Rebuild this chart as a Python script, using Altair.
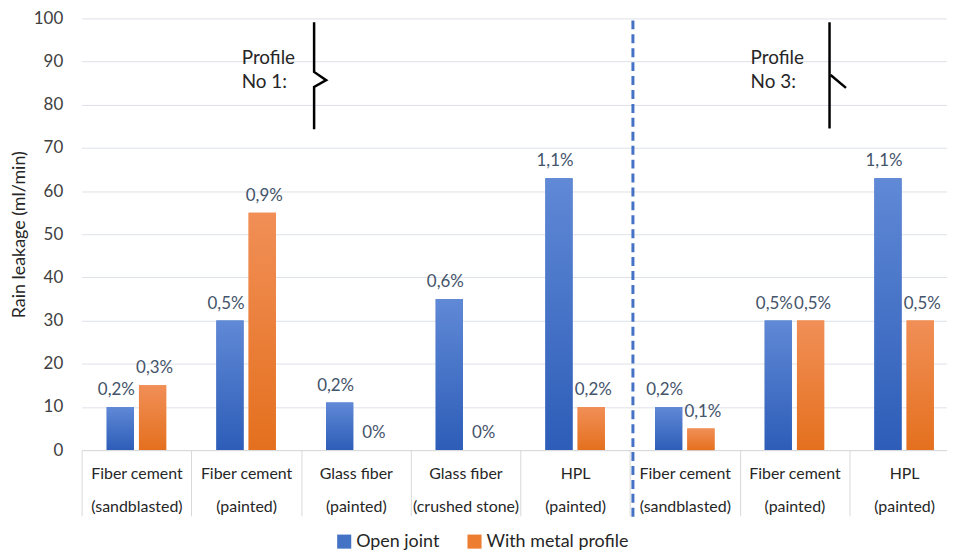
import altair as alt
import pandas as pd

# ---- data ----
categories = ["Fiber cement", "Fiber cement", "Glass fiber", "Glass fiber", "HPL",
              "Fiber cement", "Fiber cement", "HPL"]
subtitles = ["(sandblasted)", "(painted)", "(painted)", "(crushed stone)", "(painted)",
             "(sandblasted)", "(painted)", "(painted)"]
series = ["Open joint", "With metal profile"]
open_joint = [10, 30, 11, 35, 63, 10, 30, 63]
metal_profile = [15, 55, 0, 0, 10, 5, 30, 30]
open_labels = ["0,2%", "0,5%", "0,2%", "0,6%", "1,1%", "0,2%", "0,5%", "1,1%"]
metal_labels = ["0,3%", "0,9%", "0%", "0%", "0,2%", "0,1%", "0,5%", "0,5%"]
y_ticks = [0, 10, 20, 30, 40, 50, 60, 70, 80, 90, 100]

# annotations (x in category units from left edge, y in data units)
annot_text = ["Profile", "No 1:", "Profile", "No 3:"]
annot_text_x = [1.46, 1.46, 6.1, 6.1]
annot_text_y = [90.8, 85.3, 90.8, 85.3]
brace_seg = ["b1", "b1", "b1", "b1", "b1", "b3v", "b3v", "b3d", "b3d"]
brace_x = [2.12, 2.12, 2.23, 2.12, 2.12, 6.82, 6.82, 6.83, 6.97]
brace_y = [99.1, 87.6, 85.7, 84.1, 74.3, 99.1, 74.5, 86.9, 83.9]
divider_index = 5

FONT = "Lato"
X_RANGE = [0, 882]   # the category axis runs past the right edge (cropped like the reference)
keys = [f"{i}|{c}~{s}" for i, (c, s) in enumerate(zip(categories, subtitles))]

rows = []
for k, v, l in zip(keys, open_joint, open_labels):
    rows.append({"key": k, "series": series[0], "value": v, "label": l})
for k, v, l in zip(keys, metal_profile, metal_labels):
    rows.append({"key": k, "series": series[1], "value": v, "label": l})
df = pd.DataFrame(rows)

x_axis = alt.Axis(
    title=None, labelAngle=0,
    labelExpr="indexof(datum.label, '|') >= 0 ? split(split(datum.label, '|')[1], '~') : ''",
    labelFont=FONT, labelFontSize=16, labelColor="#262626",
    labelLineHeight=33, labelPadding=-50,
    tickBand="extent", tickSize=66, tickColor="#D9D9D9", tickWidth=1,
    domainColor="#D9D9D9", grid=False,
)


def make_x(**kw):
    return alt.X("key:N", sort=keys,
                 scale=alt.Scale(domain=keys, range=X_RANGE, paddingInner=0, paddingOuter=0),
                 axis=x_axis, **kw)


xo = alt.XOffset("series:N", sort=series,
                 scale=alt.Scale(domain=series, paddingInner=0.156, paddingOuter=0.777))
y = alt.Y("value:Q", scale=alt.Scale(domain=[0, 100], nice=False),
          axis=alt.Axis(values=y_ticks, title="Rain leakage (ml/min)",
                        labelFont=FONT, labelFontSize=17, labelColor="#404040",
                        labelPadding=19, domain=False, ticks=False,
                        gridColor="#DDE1E8", gridWidth=1,
                        titleFont=FONT, titleFontSize=18, titleFontWeight="normal",
                        titleColor="#262626", titlePadding=5))

base = alt.Chart(df)

bars = base.mark_bar().encode(
    x=make_x(), xOffset=xo, y=y,
    color=alt.Color("series:N", sort=series,
                    scale=alt.Scale(domain=series, range=["#4472C4", "#ED7D31"]),
                    legend=alt.Legend(title=None, orient="none", direction="horizontal",
                                      legendX=255, legendY=517,
                                      symbolType="square", symbolSize=200,
                                      symbolStrokeWidth=0,
                                      labelFont=FONT, labelFontSize=18,
                                      labelColor="#262626", columnPadding=26,
                                      labelOffset=3)),
)

blue_grad = alt.Gradient(gradient="linear",
                         stops=[alt.GradientStop(color="#2D5DB8", offset=0),
                                alt.GradientStop(color="#6089D6", offset=1)],
                         x1=0, x2=0, y1=1, y2=0)
orange_grad = alt.Gradient(gradient="linear",
                           stops=[alt.GradientStop(color="#E4701E", offset=0),
                                  alt.GradientStop(color="#F18F57", offset=1)],
                           x1=0, x2=0, y1=1, y2=0)

g_blue = base.transform_filter(alt.datum.series == series[0]).mark_bar(color=blue_grad).encode(
    x=make_x(), xOffset=xo, y=y)
g_orange = base.transform_filter(alt.datum.series == series[1]).mark_bar(color=orange_grad).encode(
    x=make_x(), xOffset=xo, y=y)

labels_open = base.transform_filter(alt.datum.series == series[0]).mark_text(
    baseline="bottom", dy=-8, dx=-4, font=FONT, fontSize=17, color="#44546A").encode(
    x=make_x(), xOffset=xo, y=y, text="label:N")
labels_metal = base.transform_filter(alt.datum.series == series[1]).mark_text(
    baseline="bottom", dy=-8, dx=2, font=FONT, fontSize=17, color="#44546A").encode(
    x=make_x(), xOffset=xo, y=y, text="label:N")

div_df = pd.DataFrame({"key": [keys[divider_index]]})
divider = alt.Chart(div_df).mark_rule(color="#4472C4", strokeWidth=3,
                                      strokeDash=[9, 5], xOffset=3).encode(
    x=make_x(bandPosition=0), y=alt.value(2), y2=alt.value(501))

main = alt.layer(bars, g_blue, g_orange, labels_open, labels_metal, divider)

ann_text_df = pd.DataFrame({"t": annot_text, "u": annot_text_x, "v": annot_text_y})
brace_df = pd.DataFrame({"seg": brace_seg, "u": brace_x, "v": brace_y,
                         "o": list(range(len(brace_x)))})

ux = alt.X("u:Q", scale=alt.Scale(domain=[0, 8], range=X_RANGE, nice=False, zero=False),
           axis=None)
vy = alt.Y("v:Q", scale=alt.Scale(domain=[0, 100], nice=False), axis=None)

ann_text = alt.Chart(ann_text_df).mark_text(align="left", baseline="middle", font=FONT,
                                            fontSize=19, color="#262626").encode(
    x=ux, y=vy, text="t:N")
braces = alt.Chart(brace_df).mark_line(color="black", strokeWidth=2.5).encode(
    x=ux, y=vy, detail="seg:N", order="o:Q")

annot = alt.layer(ann_text, braces)

chart = alt.layer(main, annot).resolve_scale(x="independent", y="independent").properties(
    width=870, height=434, autosize="none",
    padding={"left": 74, "top": 9, "right": 0, "bottom": 102},
).configure_view(stroke=None)

chart.save("out.html", embed_options={"renderer": "svg", "actions": False})
